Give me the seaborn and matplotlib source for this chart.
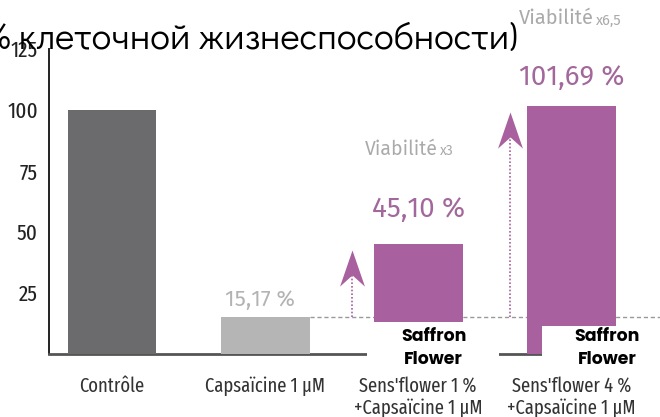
import matplotlib
matplotlib.use("Agg")
import matplotlib.pyplot as plt
import seaborn as sns
import numpy as np
import pandas as pd
from matplotlib.path import Path
from matplotlib.patches import Rectangle

# ---- data ----
categories = ["Contrôle", "Capsaïcine 1 µM", "Sens'flower 1 %\n+Capsaïcine 1 µM", "Sens'flower 4 %\n+Capsaïcine 1 µM"]
values = [100.0, 15.17, 45.10, 101.69]
value_labels = ["", "15,17 %", "45,10 %", "101,69 %"]
fold_labels = ["", "", "x3", "x6,5"]
y_ticks = [25, 50, 75, 100, 125]
title_text = "(% клеточной жизнеспособности)"
brand_text = "Saffron\nFlower"

colors = ["#6b6b6d", "#b5b5b5", "#a9609f", "#a9609f"]
purple_text = "#a2689c"
gray_text = "#aaaaaa"

sns.set_style("white")
plt.rcParams["font.family"] = ["DejaVu Sans"]

XCOND = dict(family=["Fira Sans Extra Condensed", "Fira Sans Condensed", "DejaVu Sans"])
REG = dict(family=["Fira Sans", "DejaVu Sans"])
GOTHIC = ["Didact Gothic", "DejaVu Sans"]
BOLDG = ["Poppins", "Montserrat", "DejaVu Sans"]

fig = plt.figure(figsize=(6.6, 4.17), dpi=100)
ax = fig.add_axes([49/660, 1 - 354/417, 1 - 49/660, (354 - 49)/417])

df = pd.DataFrame({"cat": categories, "val": values})
sns.barplot(data=df, x="cat", y="val", hue="cat", palette=colors, legend=False,
            width=0.58, saturation=1, ax=ax, zorder=3, edgecolor="none")

ax.set_xlim(-0.412, 3.58)
ax.set_ylim(0, 125)
ax.set_xlabel("")
ax.set_ylabel("")

for s in ["top", "right"]:
    ax.spines[s].set_visible(False)
ax.spines["left"].set_color("#222222")
ax.spines["left"].set_linewidth(1.4)
ax.spines["bottom"].set_color("#555555")
ax.spines["bottom"].set_linewidth(2.0)

ax.set_yticks(y_ticks)
ax.set_yticklabels([str(t) for t in y_ticks], fontsize=16.5, color="#222222", **XCOND)
ax.tick_params(axis="y", direction="in", length=11, width=1.2, color="#222222", pad=8)

ax.set_xticks(range(len(categories)))
ax.set_xticklabels(categories, fontsize=14.5, color="#333333", linespacing=1.15, **XCOND)
ax.tick_params(axis="x", which="major", length=0, pad=16)
ax.set_xticks([0.4, 1.5], minor=True)
ax.tick_params(axis="x", which="minor", direction="in", length=11, width=1.2, color="#333333")

ax.plot([1 + 0.29, 3.58], [values[1], values[1]], ls=(0, (3, 2)), color="#999999", lw=1, zorder=1)

head = Path([(0, 0), (0.5, -1.45), (0, -1.0), (-0.5, -1.45), (0, 0)],
            [Path.MOVETO, Path.LINETO, Path.LINETO, Path.LINETO, Path.CLOSEPOLY])
arrow_x = [1.57, 2.60]
for ax_x, v in zip(arrow_x, values[2:]):
    tip = v - 2.5
    ax.plot([ax_x, ax_x], [values[1], tip - 10], ls=(0, (1, 1.2)), color="#a9609f", lw=1.2, zorder=2)
    ax.plot([ax_x], [tip], marker=head, markersize=52, color="#a9609f", mec="none", zorder=4, clip_on=False)

ax.text(0.965, 22.4, value_labels[1], fontsize=16, color="#b3b3b3",
        ha="center", va="center", zorder=6, **REG)
ax.text(2.0, 59.4, value_labels[2], fontsize=20, color=purple_text,
        ha="center", va="center", zorder=6, clip_on=False, **REG)
ax.text(3.0, 113.3, value_labels[3], fontsize=20, color=purple_text,
        ha="center", va="center", zorder=6, clip_on=False, **REG)

ax.text(2.13, 84.0, "Viabilité", fontsize=14, color=gray_text, ha="right", va="center", **REG)
ax.text(2.14, 83.3, fold_labels[2], fontsize=10, color=gray_text, ha="left", va="center", **REG)
ax.text(3.15, 137.4, "Viabilité", fontsize=14.5, color=gray_text, ha="right", va="center", clip_on=False, **REG)
ax.text(3.16, 136.7, fold_labels[3], fontsize=10.5, color=gray_text, ha="left", va="center", clip_on=False, **REG)

for (x0, x1, ytop), xc in zip([(1.667, 2.53, 13.0), (2.81, 3.75, 11.4)], [2.10, 3.235]):
    ax.add_patch(Rectangle((x0, -6.2), x1 - x0, ytop + 6.2, facecolor="white", edgecolor="none",
                           zorder=7, clip_on=False))
    ax.text(xc, 2.4, brand_text, fontsize=12.5, fontweight="bold", color="black", ha="center",
            va="center", linespacing=1.4, zorder=8, clip_on=False, family=BOLDG)

fig.text(518/660, 1 - 39/417, title_text, fontsize=26.5, color="black",
         ha="right", va="center", family=GOTHIC)

fig.savefig("out.png", dpi=100)
